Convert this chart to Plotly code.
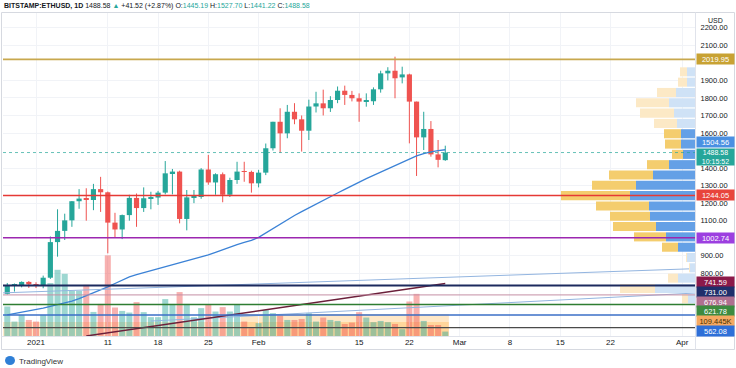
import plotly.graph_objects as go
import pandas as pd

# ---------------- data ----------------
dates = pd.date_range("2020-12-28", "2021-02-27", freq="D")

open_ = [683, 731, 732, 751, 737, 730, 775, 978, 1042, 1102, 1211, 1226, 1218, 1280, 1262, 1089,
         1050, 1132, 1230, 1172, 1228, 1232, 1260, 1370, 1380, 1110, 1233, 1235, 1392, 1318, 1365,
         1248, 1332, 1380, 1378, 1313, 1374, 1513, 1664, 1598, 1721, 1678, 1613, 1751, 1769, 1741,
         1788, 1841, 1817, 1798, 1779, 1781, 1849, 1940, 1955, 1917, 1934, 1779, 1575, 1623, 1478,
         1445.19]
high = [745, 742, 754, 756, 749, 787, 1010, 1165, 1140, 1212, 1280, 1285, 1310, 1350, 1266, 1145,
        1135, 1248, 1255, 1290, 1265, 1270, 1440, 1395, 1385, 1275, 1275, 1400, 1475, 1370, 1375,
        1345, 1436, 1436, 1385, 1390, 1540, 1664, 1741, 1760, 1770, 1700, 1790, 1835, 1847, 1810,
        1865, 1870, 1840, 1826, 1826, 1860, 1955, 1975, 2035, 1978, 1938, 1779, 1721, 1668, 1560,
        1527.70]
low = [679, 696, 720, 717, 716, 715, 768, 895, 990, 1065, 1168, 1100, 1160, 1150, 914, 1003,
       995, 1100, 1065, 1150, 1165, 1190, 1250, 1250, 1085, 1045, 1200, 1225, 1305, 1248, 1205,
       1235, 1310, 1322, 1260, 1290, 1360, 1500, 1487, 1570, 1650, 1494, 1560, 1717, 1700, 1720,
       1770, 1760, 1780, 1664, 1750, 1760, 1830, 1900, 1798, 1883, 1541, 1355, 1503, 1465, 1404,
       1441.22]
close = [731, 732, 751, 737, 730, 775, 978, 1042, 1102, 1211, 1226, 1218, 1280, 1262, 1089, 1050,
         1132, 1230, 1172, 1228, 1232, 1260, 1370, 1380, 1110, 1233, 1235, 1392, 1318, 1365, 1248,
         1332, 1380, 1378, 1313, 1374, 1513, 1664, 1598, 1721, 1678, 1613, 1751, 1769, 1741, 1788,
         1841, 1817, 1798, 1779, 1781, 1849, 1940, 1955, 1912, 1934, 1779, 1575, 1623, 1478,
         1447.06, 1488.58]
volume_k = [147, 72, 105, 80, 72, 105, 264, 330, 310, 225, 225, 255, 120, 160, 402, 142, 125, 117,
            169, 119, 94, 94, 184, 160, 219, 160, 94, 139, 155, 122, 144, 122, 155, 72, 39, 64,
            130, 114, 102, 80, 80, 85, 114, 72, 92, 80, 75, 60, 67, 119, 92, 69, 75, 69, 60, 34,
            172, 210, 75, 55, 55, 22]
ma50 = [563, 570, 578, 586, 594, 602, 611, 620, 629, 641, 656, 672, 688, 705, 723, 742, 761, 780,
        793, 804, 815, 825, 835, 846, 857, 868, 879, 890, 905, 920, 936, 952, 964, 976, 988, 1005,
        1030, 1056, 1082, 1108, 1130, 1152, 1174, 1196, 1216, 1237, 1258, 1279, 1300, 1321, 1340,
        1358, 1377, 1395, 1414, 1432, 1450, 1469, 1482, 1493, 1499, 1504.56]

# horizontal price levels
level_prices = [2019.95, 1244.05, 1002.74, 731.00, 676.94, 621.78, 562.08, 490.0]
level_colors = ["#c8a84e", "#e53935", "#9c27b0", "#1c2a5e", "#c48ea4", "#2e7d32", "#3b6fc7", "#4a4a4a"]
level_widths = [1.6, 1.5, 1.5, 2.0, 1.0, 1.5, 1.5, 1.2]

# trend lines (date, price)
trend_maroon_dates = ["2021-01-08", "2021-02-27"]
trend_maroon_prices = [443, 741.59]
trend_blue1_dates = ["2020-12-27", "2021-04-03"]
trend_blue1_prices = [688, 827]
trend_blue2_dates = ["2021-01-17", "2021-04-03"]
trend_blue2_prices = [528, 688]

# volume-area bands (start date, level in K)
band_starts = ["2020-12-27 10:00", "2021-01-29 12:00"]
band_end = "2021-02-27 12:00"
band_levels = [70.0, 109.445]

# volume profile (visible range)
profile_top = 1978.0
profile_row = 58.8
profile_up = [80, 80, 190, 260, 210, 180, 140, 140, 120, 260, 420, 590, 650, 460, 450, 390, 290, 170,
              80, 50, 170, 400, 70]
profile_down = [70, 90, 190, 330, 340, 230, 170, 160, 110, 220, 440, 440, 690, 530, 400, 430, 320,
                160, 10, 10, 100, 350, 60]
value_area = [False] * 6 + [True] * 12 + [False] * 5

x_ticks = ["2021-01-01", "2021-01-11", "2021-01-18", "2021-01-25", "2021-02-01", "2021-02-08",
           "2021-02-15", "2021-02-22", "2021-03-01", "2021-03-08", "2021-03-15", "2021-03-22",
           "2021-04-01"]
x_tick_text = ["2021", "11", "18", "25", "Feb", "8", "15", "22", "Mar", "8", "15", "22", "Apr"]
y_ticks = [800, 900, 1100, 1200, 1300, 1400, 1600, 1700, 1800, 1900, 2100, 2200]

# ---------------- geometry ----------------
L, R, T, B = 3, 695, 13, 336
W, H = R - L, B - T
Y0, Y1 = 442.7, 2284.1
VMAX = 1610.0
PMAX = 6920.0
x_start = pd.Timestamp("2021-01-01") - pd.Timedelta(days=4.596)
x_end = pd.Timestamp("2021-01-01") + pd.Timedelta(days=91.78)
DAY = 86400000

UP, DN = "#26a69a", "#ef5350"
FONT = "Liberation Sans"


def v2px(v):
    return T + (Y1 - v) / (Y1 - Y0) * H


def px2py(p):
    return (B - p) / H


def px2px(p):
    return (p - L) / W


fig = go.Figure()

# volume
vol_colors = ["rgba(38,166,154,0.45)" if c >= o else "rgba(239,83,80,0.45)" for o, c in zip(open_, close)]
fig.add_trace(go.Bar(x=dates, y=volume_k, marker=dict(color=vol_colors, line=dict(width=0)),
                     width=0.84 * DAY, xaxis="x", yaxis="y", hoverinfo="skip"))

# volume profile
up_col = ["#64a0e6" if va else "#cfe2f6" for va in value_area]
dn_col = ["#f4cd6e" if va else "#fce9c6" for va in value_area]
centers = [profile_top - (i + 0.5) * profile_row for i in range(len(profile_up))]
fig.add_trace(go.Bar(y=centers, x=profile_up, base=[0] * len(profile_up), orientation="h",
                     width=profile_row * 0.88, marker=dict(color=up_col, line=dict(width=0)),
                     xaxis="x2", yaxis="y2", hoverinfo="skip"))
fig.add_trace(go.Bar(y=centers, x=profile_down, base=profile_up, orientation="h",
                     width=profile_row * 0.88, marker=dict(color=dn_col, line=dict(width=0)),
                     xaxis="x2", yaxis="y2", hoverinfo="skip"))

# candle bodies
body_lo = [min(o, c) for o, c in zip(open_, close)]
body_h = [max(abs(c - o), 5.0) for o, c in zip(open_, close)]
cand_col = [UP if c >= o else DN for o, c in zip(open_, close)]
fig.add_trace(go.Bar(x=dates, y=body_h, base=body_lo, width=0.72 * DAY,
                     marker=dict(color=cand_col, line=dict(width=0)), xaxis="x", yaxis="y2",
                     hoverinfo="skip"))

# wicks
for col, cond in ((UP, True), (DN, False)):
    xs, ys = [], []
    for d, o, h, l, c in zip(dates, open_, high, low, close):
        if (c >= o) == cond:
            xs += [d, d, None]
            ys += [l, h, None]
    fig.add_trace(go.Scatter(x=xs, y=ys, mode="lines", line=dict(color=col, width=1),
                             xaxis="x", yaxis="y2", hoverinfo="skip"))

# MA
fig.add_trace(go.Scatter(x=dates, y=ma50, mode="lines", line=dict(color="#3b82d6", width=1.3),
                         xaxis="x", yaxis="y2", hoverinfo="skip"))

# trend lines
for dd, pp, col, wd in ((trend_blue1_dates, trend_blue1_prices, "#93b5e0", 1.0),
                        (trend_blue2_dates, trend_blue2_prices, "#93b5e0", 1.0),
                        (trend_maroon_dates, trend_maroon_prices, "#6b1f3a", 1.5)):
    fig.add_trace(go.Scatter(x=dd, y=pp, mode="lines", line=dict(color=col, width=wd),
                             xaxis="x", yaxis="y2", hoverinfo="skip"))

shapes = []
# volume bands
for s, lv in zip(band_starts, band_levels):
    shapes.append(dict(type="rect", xref="x", yref="y", x0=s, x1=band_end, y0=0, y1=lv,
                       fillcolor="rgba(255,152,0,0.22)", line=dict(width=0), layer="below"))
# levels
for p, c, w in zip(level_prices, level_colors, level_widths):
    shapes.append(dict(type="line", xref="paper", yref="y2", x0=0, x1=1, y0=p, y1=p,
                       line=dict(color=c, width=w), layer="above"))
# last price dotted
shapes.append(dict(type="line", xref="paper", yref="y2", x0=0, x1=1, y0=close[-1], y1=close[-1],
                   line=dict(color="rgba(38,166,154,0.7)", width=1, dash="dot"), layer="above"))
# frame
shapes.append(dict(type="rect", xref="paper", yref="paper", x0=px2px(1.5), x1=px2px(734.5),
                   y0=px2py(349.5), y1=px2py(12.5), line=dict(color="#d6d9e0", width=1)))
shapes.append(dict(type="line", xref="paper", yref="paper", x0=px2px(695.5), x1=px2px(695.5),
                   y0=px2py(349.5), y1=px2py(12.5), line=dict(color="#e0e3eb", width=1)))
shapes.append(dict(type="line", xref="paper", yref="paper", x0=px2px(1.5), x1=px2px(734.5),
                   y0=px2py(336.5), y1=px2py(336.5), line=dict(color="#e0e3eb", width=1)))
# logo mark
shapes.append(dict(type="circle", xref="paper", yref="paper", x0=px2px(5), x1=px2px(15),
                   y0=px2py(365), y1=px2py(356), fillcolor="#2f7fd6", line=dict(width=0)))

annotations = []


def axis_label(py, text, bg, fg="white", lines=1, anchor="middle", size=7.5, h=8):
    annotations.append(dict(xref="paper", yref="paper", x=px2px(696), y=px2py(py), xanchor="left",
                            yanchor=anchor, text=text, showarrow=False, bgcolor=bg,
                            font=dict(family=FONT, size=size, color=fg), width=35,
                            height=h * lines, borderpad=1, align="center"))


axis_label(v2px(2019.95), "2019.95", "#c8a233")
axis_label(v2px(1244.05), "1244.05", "#e8453c")
axis_label(v2px(1002.74), "1002.74", "#9c3fe0")
cur_px = v2px(close[-1])
axis_label(cur_px - 4.5, f"{close[-1]:.2f}<br>10:15:52", UP, lines=2, anchor="top", size=7, h=7)
axis_label(cur_px - 5.0, f"{ma50[-1]:.2f}", "#4a90e2", anchor="bottom")

low_labels = [
    (v2px(trend_maroon_prices[-1]), f"{trend_maroon_prices[-1]:.2f}", "#8b1a4a", "white"),
    (v2px(731.00), "731.00", "#1f2f6b", "white"),
    (v2px(676.94), "676.94", "#b07090", "white"),
    (v2px(621.78), "621.78", "#3d8b40", "white"),
    (B - band_levels[-1] / VMAX * H, f"{band_levels[-1]:.3f}K", "#f5a962", "#4a3000"),
    (v2px(562.08), "562.08", "#2e6fd8", "white"),
]
low_labels.sort(key=lambda t: t[0])
prev = -1e9
for nat, txt, bg, fg in low_labels:
    pos = max(nat - 1.5, prev + 9.8)
    axis_label(pos, txt, bg, fg)
    prev = pos

# header
TEAL = "#26a69a"
chg = close[-1] - close[-2]
pct = chg / close[-2] * 100
hdr = (f"<b>BITSTAMP:ETHUSD, 1D</b> {close[-1]:.2f} <span style='color:{TEAL}'>▲</span> "
       f"+{chg:.2f} (+{pct:.2f}%) O:<span style='color:{TEAL}'>{open_[-1]:.2f}</span> "
       f"H:<span style='color:{TEAL}'>{high[-1]:.2f}</span> "
       f"L:<span style='color:{TEAL}'>{low[-1]:.2f}</span> "
       f"C:<span style='color:{TEAL}'>{close[-1]:.2f}</span>")
annotations.append(dict(xref="paper", yref="paper", x=px2px(2), y=px2py(6), xanchor="left",
                        yanchor="middle", text=hdr, showarrow=False,
                        font=dict(family=FONT, size=7, color="#131722")))
annotations.append(dict(xref="paper", yref="paper", x=px2px(715), y=px2py(21), xanchor="center",
                        yanchor="middle", text="USD", showarrow=False,
                        font=dict(family=FONT, size=7, color="#131722")))
annotations.append(dict(xref="paper", yref="paper", x=px2px(17), y=px2py(361), xanchor="left",
                        yanchor="middle", text="TradingView", showarrow=False,
                        font=dict(family=FONT, size=8, color="#333")))

fig.update_layout(
    template="none",
    width=736, height=368, margin=dict(l=L, r=736 - R, t=T, b=368 - B, pad=0, autoexpand=False),
    paper_bgcolor="white", plot_bgcolor="white", showlegend=False, barmode="overlay",
    shapes=shapes, annotations=annotations,
    xaxis=dict(type="date", range=[x_start, x_end], tickvals=x_ticks, ticktext=x_tick_text,
               showgrid=True, gridcolor="#f1f3f7", gridwidth=1, zeroline=False, showline=False,
               ticks="", automargin=False, tickfont=dict(family=FONT, size=8, color="#131722")),
    xaxis2=dict(overlaying="x", range=[PMAX, 0], visible=False, side="top", automargin=False),
    yaxis=dict(range=[0, VMAX], visible=False, fixedrange=True, automargin=False),
    yaxis2=dict(overlaying="y", side="right", range=[Y0, Y1], tickvals=y_ticks,
                ticktext=[f"{v:.2f}" for v in y_ticks], showgrid=True, gridcolor="#f1f3f7",
                zeroline=False, showline=False, ticks="outside", ticklen=3, automargin=False,
                tickcolor="rgba(0,0,0,0)", tickfont=dict(family=FONT, size=7.5, color="#131722")),
)

fig.write_html("out.html", config={"displayModeBar": False},
               post_script="document.body.style.margin='0';document.body.style.overflow='hidden';")
